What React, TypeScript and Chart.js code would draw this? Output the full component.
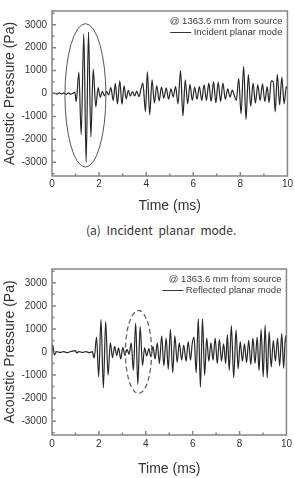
import React, { useEffect, useRef } from "react";
import { Chart, registerables } from "chart.js";

Chart.register(...registerables);

// ---- Data ----
const incidentTime = [
  0, 0.1, 0.2, 0.3, 0.4, 0.5, 0.6, 0.7, 0.8, 0.9, 0.97, 1.03, 1.14, 1.24, 1.35, 1.45, 1.55, 1.65,
  1.75, 1.86, 1.96, 2.05, 2.14, 2.23, 2.32, 2.41, 2.5, 2.6, 2.69, 2.78, 2.88, 2.97, 3.06, 3.15,
  3.24, 3.33, 3.42, 3.51, 3.6, 3.69, 3.78, 3.86, 3.97, 4.05, 4.15, 4.25, 4.35, 4.45, 4.55, 4.65,
  4.75, 4.85, 4.95, 5.05, 5.15, 5.25, 5.35, 5.46, 5.56, 5.66, 5.76, 5.86, 5.96, 6.06, 6.16, 6.26,
  6.36, 6.46, 6.56, 6.66, 6.76, 6.86, 6.96, 7.06, 7.16, 7.26, 7.36, 7.46, 7.56, 7.66, 7.75, 7.83,
  7.93, 8.03, 8.14, 8.24, 8.34, 8.44, 8.54, 8.64, 8.74, 8.84, 8.94, 9.04, 9.14, 9.22, 9.31, 9.4,
  9.48, 9.57, 9.67, 9.76, 9.86, 9.95, 10.0,
];
const incidentPressure = [
  0, 20, -30, 30, -20, 25, -40, 30, -30, 20, 60, -350, 930, -1800, 2600, -3000, 2680, -1900,
  1070, -580, 260, -170, 90, -100, 90, -60, 260, -300, 440, -450, 550, -470, 330, -230,
  140, -110, 80, -110, 110, -140, 200, 450, -790, 950, -930, 600, -420, 350, -320, 280,
  -200, 250, -250, 200, -150, 300, -450, 1000, -980, 600, -450, 400, -300, 280, -250, 300,
  -300, 380, -300, 450, -350, 520, -400, 500, -350, 450, -250, 200, -150, 150, -100, -300,
  650, -880, 1180, -1130, 820, -560, 450, -420, 380, -300, 420, -350, 300, -400, 550, 500,
  -800, 840, -500, 720, -450, 300, 200,
];

const reflectedTime = [
  0, 0.03, 0.1, 0.2, 0.35, 0.5, 0.65, 0.8, 1.0, 1.05, 1.15, 1.3, 1.45, 1.6, 1.72, 1.8, 1.9, 1.99,
  2.09, 2.19, 2.29, 2.39, 2.49, 2.58, 2.67, 2.76, 2.84, 2.93, 3.02, 3.11, 3.2, 3.29, 3.38, 3.47,
  3.57, 3.66, 3.76, 3.86, 3.95, 4.04, 4.13, 4.22, 4.31, 4.4, 4.49, 4.58, 4.68, 4.77, 4.87, 4.96,
  5.05, 5.15, 5.24, 5.34, 5.43, 5.53, 5.62, 5.72, 5.81, 5.91, 5.98, 6.06, 6.15, 6.24, 6.33, 6.42,
  6.51, 6.6, 6.69, 6.78, 6.87, 6.96, 7.05, 7.14, 7.23, 7.32, 7.41, 7.48, 7.56, 7.65, 7.75, 7.85,
  7.94, 8.03, 8.12, 8.21, 8.3, 8.39, 8.48, 8.57, 8.66, 8.75, 8.83, 8.92, 9.01, 9.09, 9.18, 9.26,
  9.35, 9.44, 9.53, 9.62, 9.71, 9.8, 9.88, 9.96, 10.0,
];
const reflectedPressure = [
  0, 300, -120, 20, -20, 20, -30, 20, 60, -40, 20, -20, 20, -30, 20, -260, 650, -1080,
  1400, -1560, 1330, -1000, 400, -250, 250, -150, 180, -300, 200, -150, 120, -100, 400, -800,
  1250, -1400, 1100, -580, 180, -170, 150, -200, 250, -300, 400, -500, 700, -600, 600, -750,
  980, -900, 700, -450, 400, -350, 300, -400, 450, -350, 350, 650, -900, 1440, -1530, 1440,
  -1000, 600, -400, 400, -350, 600, -500, 550, -400, 350, -500, 750, -800, 1150, -1120, 950,
  -730, 450, -400, 350, -450, 500, -550, 600, -500, 650, -800, 980, -1070, 1160, -1120, 880,
  -650, 500, -400, 600, -600, 800, -700, 700, 400,
];

const xMajorTicks = [0, 2, 4, 6, 8, 10];
const xMinorTicks = [1, 3, 5, 7, 9];
const yMajorTicks = [-3000, -2000, -1000, 0, 1000, 2000, 3000];
const yMinorTicks = [-3500, -2500, -1500, -500, 500, 1500, 2500, 3500];
const legendSource = "@ 1363.6 mm from source";
const incidentLabel = "Incident planar mode";
const reflectedLabel = "Reflected planar mode";
const captionA = "(a) Incident planar mode.";
const xTitle = "Time (ms)";
const yTitle = "Acoustic Pressure (Pa)";

const FONT = "'Liberation Sans', Arial, sans-serif";

const framePlugin = {
  id: "frameTicks",
  afterDraw(chart: any) {
    const { ctx, chartArea } = chart;
    const xs = chart.scales.x;
    const ys = chart.scales.y;
    ctx.save();
    ctx.strokeStyle = "#858585";
    ctx.lineWidth = 1.5;
    ctx.beginPath();
    for (const v of [...xMajorTicks, ...xMinorTicks]) {
      if (v <= 0 || v >= 10) continue;
      const len = xMajorTicks.includes(v) ? 4 : 2.5;
      const px = xs.getPixelForValue(v);
      ctx.moveTo(px, chartArea.bottom);
      ctx.lineTo(px, chartArea.bottom - len);
    }
    for (const v of [...yMajorTicks, ...yMinorTicks]) {
      const len = yMajorTicks.includes(v) ? 4 : 2.5;
      const py = ys.getPixelForValue(v);
      ctx.moveTo(chartArea.left, py);
      ctx.lineTo(chartArea.left + len, py);
    }
    ctx.stroke();
    ctx.strokeRect(chartArea.left, chartArea.top, chartArea.right - chartArea.left, chartArea.bottom - chartArea.top);
    ctx.restore();
  },
};

const ellipsePlugin = {
  id: "ellipseMark",
  afterDatasetsDraw(chart: any, _args: any, opts: any) {
    if (!opts || opts.rx == null) return;
    const { ctx } = chart;
    const xs = chart.scales.x;
    const ys = chart.scales.y;
    const cx = xs.getPixelForValue(opts.cx);
    const cy = ys.getPixelForValue(opts.cy);
    const rx = Math.abs(xs.getPixelForValue(opts.cx + opts.rx) - cx);
    const ry = Math.abs(ys.getPixelForValue(opts.cy + opts.ry) - cy);
    ctx.save();
    ctx.strokeStyle = opts.color;
    ctx.lineWidth = opts.width;
    ctx.setLineDash(opts.dash || []);
    ctx.beginPath();
    ctx.ellipse(cx, cy, rx, ry, 0, 0, Math.PI * 2);
    ctx.stroke();
    ctx.restore();
  },
};

const legendPlugin = {
  id: "textLegend",
  afterDraw(chart: any, _args: any, opts: any) {
    const { ctx, chartArea } = chart;
    const right = chartArea.right - 5;
    ctx.save();
    ctx.font = `9.5px ${FONT}`;
    ctx.fillStyle = "#3a3a3a";
    ctx.textAlign = "right";
    ctx.textBaseline = "middle";
    ctx.fillText(legendSource, right, chartArea.top + 10);
    ctx.fillText(opts.label, right, chartArea.top + 21.5);
    const w = ctx.measureText(opts.label).width;
    const lineEnd = right - w - 2.5;
    ctx.strokeStyle = "#333";
    ctx.lineWidth = 1;
    ctx.beginPath();
    ctx.moveTo(lineEnd - 21, chartArea.top + 21.5);
    ctx.lineTo(lineEnd, chartArea.top + 21.5);
    ctx.stroke();
    ctx.restore();
  },
};

type PanelProps = {
  time: number[];
  pressure: number[];
  label: string;
  height: number;
  padTop: number;
  xAxisHeight: number;
  tickPad: number;
  titlePad: number;
  ellipse: any;
};

function WavePanel(props: PanelProps) {
  const ref = useRef<HTMLCanvasElement | null>(null);
  useEffect(() => {
    if (!ref.current) return;
    const points = props.time.map((t, i) => ({ x: t, y: props.pressure[i] }));
    const chart = new Chart(ref.current, {
      type: "line",
      data: {
        datasets: [
          {
            label: props.label,
            data: points,
            borderColor: "#262626",
            borderWidth: 1.2,
            pointRadius: 0,
            cubicInterpolationMode: "monotone",
            fill: false,
          },
        ],
      },
      options: {
        animation: false,
        responsive: false,
        parsing: false as any,
        layout: { padding: { top: props.padTop, right: 7, left: 0, bottom: 0 } },
        plugins: {
          legend: { display: false },
          tooltip: { enabled: false },
          ellipseMark: props.ellipse,
          textLegend: { label: props.label },
        } as any,
        scales: {
          x: {
            type: "linear",
            min: 0,
            max: 10,
            grid: { display: false, drawTicks: false },
            border: { display: false },
            afterBuildTicks: (s: any) => {
              s.ticks = xMajorTicks.map((v) => ({ value: v }));
            },
            afterFit: (s: any) => {
              s.height = props.xAxisHeight;
            },
            ticks: {
              padding: props.tickPad,
              color: "#333",
              font: { family: FONT, size: 10 },
              maxRotation: 0,
              callback: (v: any) => String(v),
            },
            title: {
              display: true,
              text: xTitle,
              color: "#333",
              font: { family: FONT, size: 14 },
              padding: { top: props.titlePad, bottom: 0 },
            },
          },
          y: {
            type: "linear",
            min: -3600,
            max: 3600,
            grid: { display: false, drawTicks: false },
            border: { display: false },
            afterBuildTicks: (s: any) => {
              s.ticks = yMajorTicks.map((v) => ({ value: v }));
            },
            afterFit: (s: any) => {
              s.width = 52;
            },
            ticks: {
              padding: 5,
              color: "#333",
              font: { family: FONT, size: 10 },
              callback: (v: any) => String(v),
            },
            title: {
              display: true,
              text: yTitle,
              color: "#333",
              font: { family: FONT, size: 14 },
              padding: { top: 2, bottom: 0 },
            },
          },
        },
      },
      plugins: [framePlugin, ellipsePlugin, legendPlugin],
    } as any);
    return () => chart.destroy();
  }, []);
  return (
    <canvas
      ref={ref}
      width={295}
      height={props.height}
      style={{ display: "block", width: 295, height: props.height }}
    />
  );
}

export default function App() {
  return (
    <div style={{ position: "absolute", left: 0, top: 0, width: 295, height: 478, background: "#fff" }}>
      <div style={{ position: "absolute", left: 0, top: 0 }}>
        <WavePanel
          time={incidentTime}
          pressure={incidentPressure}
          label={incidentLabel}
          height={215}
          padTop={4.5}
          xAxisHeight={39}
          tickPad={2}
          titlePad={3.6}
          ellipse={{ cx: 1.42, cy: -80, rx: 0.87, ry: 3130, color: "#555", width: 1, dash: [] }}
        />
      </div>
      <div
        style={{
          position: "absolute",
          left: 86,
          top: 221,
          height: 18,
          lineHeight: "18px",
          whiteSpace: "nowrap",
          fontFamily: "'Noto Sans CJK KR', sans-serif",
          fontSize: 12,
          color: "#333",
          wordSpacing: 3,
        }}
      >
        {captionA}
      </div>
      <div style={{ position: "absolute", left: 0, top: 258 }}>
        <WavePanel
          time={reflectedTime}
          pressure={reflectedPressure}
          label={reflectedLabel}
          height={220}
          padTop={5}
          xAxisHeight={43}
          tickPad={3}
          titlePad={4.6}
          ellipse={{ cx: 3.69, cy: 0, rx: 0.56, ry: 1800, color: "#666", width: 1.3, dash: [5, 3] }}
        />
      </div>
    </div>
  );
}
